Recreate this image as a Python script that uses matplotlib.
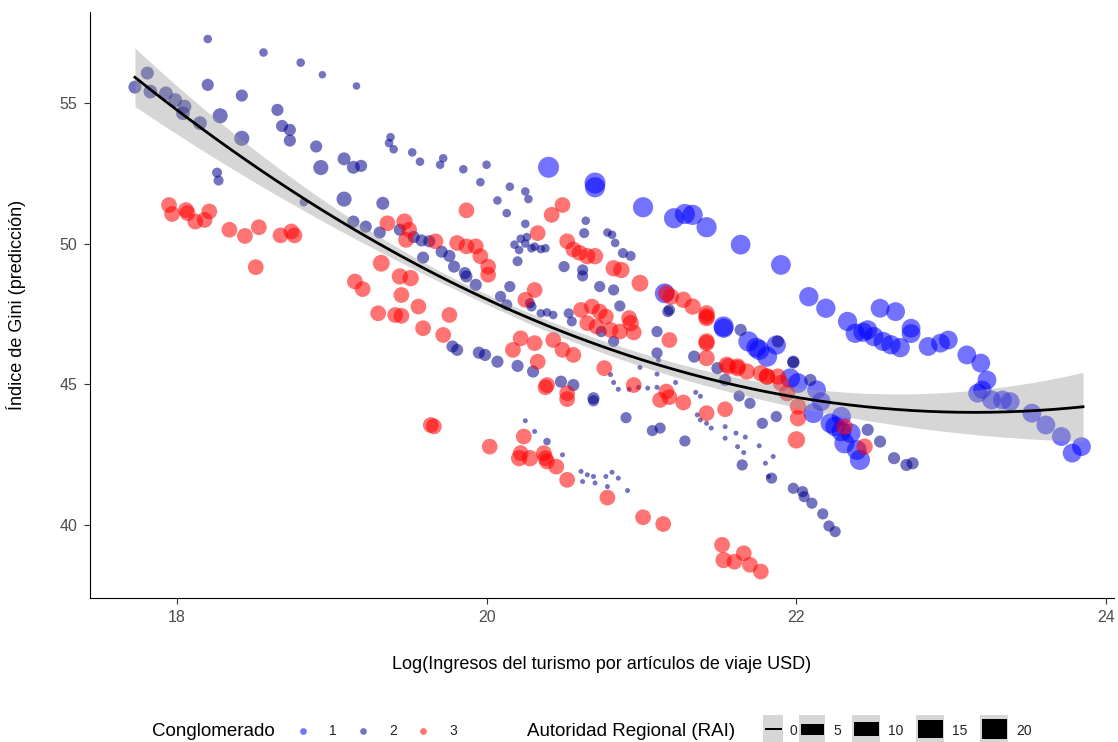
import numpy as np
import matplotlib
matplotlib.use("Agg")
import matplotlib.pyplot as plt
from matplotlib.patches import Rectangle

plt.rcParams["font.family"] = ["Liberation Sans", "DejaVu Sans"]

# (log tourism receipts, predicted Gini, RAI) per country-year, by cluster
cluster1 = [
    (20.40, 52.71, 20), (20.70, 52.15, 20), (20.70, 52.00, 18), (21.01, 51.29, 18),
    (21.21, 50.90, 18), (21.28, 51.05, 18), (21.33, 51.02, 18), (21.42, 50.58, 18),
    (21.64, 49.96, 17), (21.90, 49.24, 17), (22.08, 48.11, 16), (22.19, 47.70, 16),
    (22.33, 47.23, 16), (22.38, 46.81, 16), (22.43, 46.85, 16), (22.46, 46.93, 16),
    (22.50, 46.69, 16), (22.56, 46.52, 16), (22.61, 46.40, 16), (22.67, 46.30, 16),
    (22.54, 47.70, 15), (22.64, 47.58, 15), (22.74, 46.99, 15), (22.74, 46.80, 15),
    (22.85, 46.34, 15), (22.93, 46.46, 15), (22.98, 46.57, 15), (23.10, 46.04, 15),
    (23.19, 45.75, 15), (23.23, 45.15, 15), (23.17, 44.68, 15), (23.20, 44.80, 14),
    (23.26, 44.44, 15), (23.33, 44.44, 15), (23.38, 44.38, 15), (23.52, 43.97, 15),
    (23.61, 43.55, 15), (23.71, 43.14, 15), (23.78, 42.55, 15), (23.84, 42.78, 15),
    (21.15, 48.23, 17), (21.53, 47.05, 18), (21.53, 46.99, 16), (21.69, 46.52, 18),
    (21.76, 46.22, 18), (21.81, 45.98, 18), (21.87, 46.39, 16), (21.74, 46.30, 17),
    (21.96, 45.21, 17), (22.01, 45.04, 17), (22.11, 43.97, 17), (22.13, 44.80, 15),
    (22.16, 44.38, 15), (22.22, 43.61, 17), (22.29, 43.32, 17), (22.31, 42.90, 18),
    (22.35, 43.26, 17), (22.39, 42.66, 17), (22.41, 42.31, 18), (22.29, 43.85, 16),
    (22.25, 43.50, 17),
]

cluster2 = [
    (18.20, 57.27, 1), (18.56, 56.79, 1), (18.80, 56.43, 1), (18.94, 56.00, 0.5),
    (19.16, 55.60, 0.5), (17.81, 56.06, 5), (17.73, 55.56, 5), (17.83, 55.40, 6),
    (17.93, 55.34, 6), (17.99, 55.10, 6), (18.05, 54.87, 6), (18.04, 54.63, 6),
    (18.15, 54.28, 6), (18.20, 55.64, 4), (18.28, 54.54, 8), (18.42, 55.26, 4),
    (18.42, 53.74, 8), (18.65, 54.75, 4), (18.68, 54.18, 4), (18.73, 54.04, 4),
    (18.73, 53.66, 4), (18.90, 53.45, 4), (18.93, 52.70, 8), (19.08, 53.01, 5),
    (19.14, 52.71, 5), (19.19, 52.76, 4), (19.38, 53.78, 1), (19.37, 53.57, 1),
    (19.40, 53.35, 1), (19.52, 53.24, 1), (19.57, 52.91, 1), (18.26, 52.52, 2),
    (18.27, 52.24, 2), (19.08, 51.58, 8), (19.33, 51.43, 5), (18.82, 51.47, 1),
    (19.14, 50.78, 4), (19.22, 50.60, 4), (19.31, 50.39, 4), (19.44, 50.49, 4),
    (19.53, 50.23, 4), (19.58, 50.11, 4), (19.63, 50.08, 4), (19.59, 49.50, 4),
    (19.70, 52.80, 1), (19.72, 53.03, 1), (19.85, 52.64, 1), (20.00, 52.80, 1),
    (19.96, 52.18, 1), (20.15, 52.02, 1), (20.25, 51.85, 1), (20.27, 51.58, 1),
    (20.07, 51.53, 1), (20.13, 51.08, 1), (20.25, 50.70, 1), (20.20, 49.37, 2),
    (20.18, 49.96, 1), (20.22, 50.17, 1), (20.25, 50.00, 1), (20.29, 49.83, 1),
    (20.31, 49.89, 1), (20.35, 49.80, 1), (20.38, 49.83, 1), (20.21, 49.77, 1),
    (20.26, 50.23, 1), (20.64, 50.81, 1), (20.63, 50.37, 2), (20.78, 50.39, 1),
    (20.81, 50.31, 1), (20.83, 50.02, 1), (20.88, 49.66, 2), (20.93, 49.56, 2),
    (20.50, 49.18, 3), (20.62, 49.06, 3), (20.62, 48.85, 3),
    (19.71, 49.71, 4), (19.76, 49.56, 4), (19.79, 49.18, 4), (19.86, 48.95, 4),
    (19.87, 48.83, 4), (19.93, 48.53, 4), (20.15, 48.47, 3), (20.73, 48.47, 3),
    (20.82, 48.35, 3), (20.86, 47.78, 3), (20.09, 48.12, 3), (20.13, 47.82, 3),
    (20.28, 47.88, 2), (20.29, 47.76, 2), (20.35, 47.52, 1), (20.39, 47.55, 1),
    (20.43, 47.46, 1), (20.53, 47.52, 2), (20.55, 47.23, 2), (21.10, 46.87, 3),
    (21.17, 47.58, 3), (21.18, 47.64, 3), (20.74, 46.87, 3), (20.82, 46.52, 3),
    (19.78, 46.34, 4), (19.81, 46.22, 4), (19.95, 46.12, 4), (19.99, 46.04, 4),
    (20.07, 45.80, 4), (20.20, 45.65, 4), (20.30, 45.45, 4), (20.48, 45.09, 4),
    (20.56, 44.97, 4), (20.69, 44.50, 4), (21.34, 45.98, 4), (21.49, 45.57, 4),
    (21.54, 45.15, 4), (21.10, 46.11, 3), (21.98, 45.80, 4), (21.64, 46.93, 4),
    (21.88, 46.52, 4), (22.09, 45.15, 4), (21.98, 45.77, 4),
    (20.25, 43.70, 0), (20.31, 43.32, 0), (20.39, 42.96, 0.5), (20.49, 42.49, 0),
    (20.61, 41.90, 0), (20.65, 41.78, 0), (20.69, 41.72, 0), (20.70, 41.49, 0),
    (20.62, 41.54, 0), (20.77, 41.72, 0), (20.81, 41.87, 0), (20.85, 41.66, 0),
    (20.91, 41.22, 0), (20.78, 41.36, 0),
    (20.80, 45.34, 0), (20.82, 45.06, 0), (20.85, 44.82, 0), (20.92, 44.82, 0),
    (20.98, 44.89, 0), (21.04, 44.86, 0), (21.10, 44.89, 0), (21.22, 45.06, 0),
    (20.99, 45.60, 0), (21.10, 45.36, 0), (21.11, 45.86, 0), (20.69, 44.41, 3),
    (20.90, 43.81, 3), (21.07, 43.35, 3), (21.12, 43.44, 3), (21.28, 42.98, 3),
    (21.35, 44.71, 0), (21.38, 44.57, 0), (21.36, 43.91, 0), (21.38, 43.73, 0),
    (21.42, 43.61, 0), (21.45, 43.44, 0), (21.54, 43.49, 0), (21.54, 43.08, 0),
    (21.61, 43.26, 0), (21.67, 43.12, 0), (21.62, 42.78, 0), (21.66, 42.57, 0),
    (21.76, 42.81, 0), (21.65, 42.13, 3), (21.63, 44.58, 3), (21.70, 44.32, 3),
    (21.78, 43.61, 3), (21.80, 42.19, 0), (21.82, 41.72, 0), (21.87, 43.85, 3),
    (21.85, 42.43, 0), (21.84, 41.66, 3),
    (21.98, 41.30, 3), (22.04, 41.18, 3), (22.05, 41.00, 3), (22.10, 40.77, 3),
    (22.17, 40.39, 3), (22.21, 39.96, 3), (22.25, 39.76, 3),
    (22.46, 43.38, 4), (22.54, 42.96, 4), (22.63, 42.37, 4), (22.71, 42.13, 4),
    (22.75, 42.19, 4),
]

cluster3 = [
    (17.95, 51.37, 9), (17.97, 51.05, 9), (18.06, 51.19, 9), (18.07, 51.08, 9),
    (18.12, 50.78, 9), (18.18, 50.84, 9), (18.21, 51.14, 9), (18.34, 50.49, 9),
    (18.44, 50.27, 9), (18.53, 50.58, 9), (18.67, 50.29, 9), (18.74, 50.43, 9),
    (18.76, 50.29, 9), (18.51, 49.16, 9),
    (19.32, 49.30, 11), (19.36, 50.72, 9), (19.47, 50.78, 10), (19.50, 50.49, 9),
    (19.48, 50.13, 9), (19.44, 48.83, 10), (19.51, 48.77, 10), (19.15, 48.65, 9),
    (19.20, 48.38, 9), (19.45, 48.17, 9), (19.56, 47.76, 9), (19.30, 47.52, 9),
    (19.41, 47.46, 9), (19.45, 47.43, 9), (19.59, 46.99, 9), (19.64, 43.55, 9),
    (19.66, 43.50, 9), (19.67, 50.08, 9),
    (19.87, 51.18, 9), (20.42, 51.02, 9), (20.49, 51.37, 9), (20.33, 50.37, 9),
    (20.52, 50.08, 9), (20.56, 49.79, 9), (20.60, 49.67, 9), (20.65, 49.55, 10),
    (20.70, 49.55, 10), (19.81, 50.02, 9), (19.87, 49.90, 9), (19.93, 49.90, 9),
    (19.96, 49.55, 9), (20.01, 49.18, 9), (20.01, 48.89, 9), (19.72, 46.75, 9),
    (19.76, 47.46, 9), (20.31, 48.35, 9), (20.25, 48.00, 9), (20.82, 49.12, 10),
    (20.87, 49.06, 10), (20.99, 48.59, 11),
    (20.61, 47.64, 9), (20.68, 47.76, 9), (20.73, 47.58, 9), (20.77, 47.40, 9),
    (20.65, 47.17, 9), (20.71, 47.05, 9), (20.80, 46.93, 9), (20.86, 46.87, 9),
    (20.93, 47.17, 10), (20.95, 46.84, 9),
    (20.22, 46.63, 9), (20.17, 46.22, 9), (20.31, 46.46, 9), (20.33, 45.80, 9),
    (20.43, 46.57, 9), (20.49, 46.22, 9), (20.56, 46.04, 9), (20.76, 45.57, 9),
    (21.18, 46.57, 9), (21.27, 48.00, 10), (21.33, 47.76, 10), (21.42, 46.46, 10),
    (21.42, 45.93, 10), (21.56, 45.63, 10), (21.62, 45.63, 10), (21.68, 45.45, 10),
    (21.81, 45.27, 10), (21.88, 45.27, 10), (20.39, 44.97, 9), (20.52, 44.68, 9),
    (20.38, 44.89, 9), (20.52, 44.47, 9), (20.95, 44.97, 9), (21.16, 44.74, 9),
    (21.12, 44.44, 9), (21.18, 44.54, 9), (21.27, 44.35, 9), (21.42, 43.97, 9),
    (21.54, 44.11, 9),
    (20.02, 42.78, 9), (20.24, 43.14, 9), (20.21, 42.37, 10), (20.28, 42.37, 10),
    (20.38, 42.37, 9), (20.45, 42.07, 9), (20.52, 41.60, 9), (20.22, 42.55, 9),
    (20.37, 42.55, 9), (20.39, 42.25, 9), (20.78, 40.97, 9), (21.01, 40.27, 9),
    (21.14, 40.03, 9), (21.52, 39.29, 9), (21.53, 38.75, 10), (21.60, 38.69, 9),
    (21.66, 38.99, 9), (21.70, 38.58, 9), (21.77, 38.34, 9),
    (21.19, 48.11, 10), (21.42, 47.41, 10), (21.42, 47.35, 10), (21.42, 47.52, 10),
    (20.92, 47.35, 9), (21.16, 48.23, 10), (21.42, 46.52, 10), (21.55, 45.69, 10),
    (21.62, 45.57, 10), (21.77, 45.39, 10), (21.81, 45.27, 10), (21.90, 45.04, 10),
    (21.94, 44.68, 10), (22.01, 44.21, 10), (22.01, 43.79, 10), (22.00, 43.02, 12),
    (22.31, 43.49, 10), (22.44, 42.78, 10),
]

# quadratic fit, with half-width of its confidence band
fit_x = [17.73, 18.19, 18.82, 19.62, 20.09, 20.73, 21.38, 21.92, 22.37, 23.13, 23.85]
fit_y = [55.88, 54.04, 51.55, 49.06, 47.82, 46.34, 45.27, 44.56, 44.30, 44.03, 44.17]
band_x = [17.73, 18.82, 20.09, 21.38, 22.37, 23.13, 23.85]
band_hw = [1.04, 0.41, 0.24, 0.25, 0.42, 0.80, 1.22]

clusters = ["1", "2", "3"]
cluster_colors = ["#0000FF", "#00008B", "#FF0000"]
rai_levels = [0, 5, 10, 15, 20]

W, H, DPI = 1118, 742, 100


def marker_area(rai):
    # ggplot-style area scale: diameter grows with sqrt of the value
    d_px = 5 + 16 * np.sqrt(np.asarray(rai, dtype=float) / 20)
    return (d_px * 72 / DPI) ** 2


fig = plt.figure(figsize=(W / DPI, H / DPI), dpi=DPI)
ax = fig.add_axes([90 / W, 1 - 598 / H, (1114 - 90) / W, (598 - 12) / H])

for pts, col in zip([cluster1, cluster2, cluster3], cluster_colors):
    x, y, r = np.array(pts).T
    ax.scatter(x, y, s=marker_area(r), color=col, alpha=0.55, linewidths=0, zorder=2)

xs = np.linspace(min(fit_x), max(fit_x), 300)
ys = np.polyval(np.polyfit(fit_x, fit_y, 2), xs)
hw = np.sqrt(np.clip(np.polyval(np.polyfit(band_x, np.square(band_hw), 4), xs), 0.01, None))
ax.fill_between(xs, ys - hw, ys + hw, color="#999999", alpha=0.4, linewidth=0, zorder=3)
ax.plot(xs, ys, color="black", linewidth=2.0, zorder=4)

ax.set_xlim(17.44, 24.05)
ax.set_ylim(37.40, 58.23)
ax.set_xticks([18, 20, 22, 24])
ax.set_yticks([40, 45, 50, 55])
for side in ("top", "right"):
    ax.spines[side].set_visible(False)
for side in ("left", "bottom"):
    ax.spines[side].set_color("black")
    ax.spines[side].set_linewidth(0.8)
ax.tick_params(colors="#333333", labelcolor="#4D4D4D", labelsize=11.5,
               length=4, width=0.8, pad=5)
ax.set_xlabel("Log(Ingresos del turismo por artículos de viaje USD)", fontsize=13, labelpad=22)
ax.set_ylabel("Índice de Gini (predicción)", fontsize=13, labelpad=24)

# legends at the bottom, laid out in pixel space
lax = fig.add_axes([0, 0, 1, 1])
lax.set_xlim(0, W)
lax.set_ylim(H, 0)
lax.axis("off")
ly = 731
lax.text(152, ly, "Conglomerado", fontsize=13.5, va="center", ha="left")
for i, (lab, col) in enumerate(zip(clusters, cluster_colors)):
    cx = 303 + 60 * i
    lax.scatter([cx], [ly], s=marker_area(0) * 1.8, color=col, alpha=0.55, linewidths=0)
    lax.text(cx + 26, ly, lab, fontsize=10, va="center", ha="left", color="#222222")

lax.text(527, ly, "Autoridad Regional (RAI)", fontsize=13.5, va="center", ha="left")
key_left = [763, 799, 852, 916, 980]
key_width = [20, 26, 28, 28, 28]
label_gap = [6, 8, 8, 8, 8]
for rai, kx, kw, gap in zip(rai_levels, key_left, key_width, label_gap):
    lax.add_patch(Rectangle((kx, 715), kw, 30, facecolor="#D6D6D6", edgecolor="none"))
    bar_h = 2 + 18 * np.sqrt(rai / 20)
    lax.add_patch(Rectangle((kx + 1.5, 729 - bar_h / 2), kw - 3, bar_h,
                            facecolor="black", edgecolor="none"))
    lax.text(kx + kw + gap, ly, str(rai), fontsize=10, va="center", ha="left", color="#222222")

fig.savefig("out.png", dpi=DPI)
